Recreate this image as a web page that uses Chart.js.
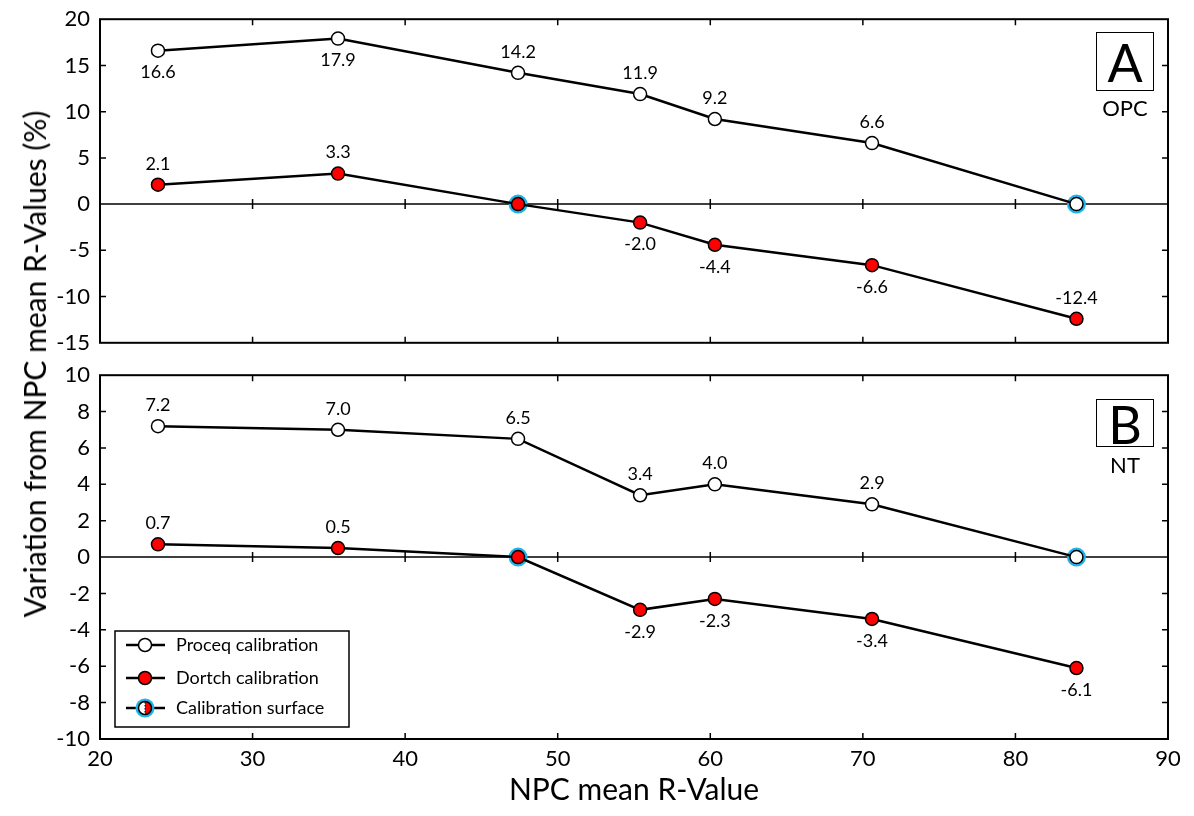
<!DOCTYPE html>
<html>
<head>
<meta charset="utf-8">
<script src="https://cdn.jsdelivr.net/npm/chart.js@4.4.1/dist/chart.umd.min.js"></script>
<style>
  body { margin: 0; background: #fff; width: 1194px; height: 816px; overflow: hidden; position: relative; font-family: Lato, "Open Sans", sans-serif; color: #000; }
  .panel { position: absolute; left: 0; width: 1194px; }
  #wrapA { top: -4px; height: 370px; }
  #wrapB { top: 352px; height: 464px; }
  #ytitle { position: absolute; left: 34px; top: 364px; transform: translate(-50%, -50%) rotate(-90deg); white-space: nowrap; font-size: 30px; }
  .letter { position: absolute; left: 1096px; width: 56px; border: 1.5px solid #000; text-align: center; font-size: 52px; }
  .tag { position: absolute; left: 1096px; width: 58px; text-align: center; font-size: 22px; }
</style>
</head>
<body>
<div class="panel" id="wrapA"><canvas id="chartA"></canvas></div>
<div class="panel" id="wrapB"><canvas id="chartB"></canvas></div>
<div id="ytitle">Variation from NPC mean R-Values (%)</div>
<div class="letter" style="top:32px;height:57px;line-height:58px">A</div>
<div class="tag" style="top:94px">OPC</div>
<div class="letter" style="top:399px;height:46px;line-height:48px">B</div>
<div class="tag" style="top:451px">NT</div>
<script>
// Valores
const valorNPC = [23.8, 35.6, 47.4, 55.4, 60.3, 70.6, 84.0];
const opcProceq = [16.6, 17.9, 14.2, 11.9, 9.2, 6.6, 0];
const opcDortch = [2.1, 3.3, 0, -2.0, -4.4, -6.6, -12.4];
const ntProceq = [7.2, 7.0, 6.5, 3.4, 4.0, 2.9, 0];
const ntDortch = [0.7, 0.5, 0, -2.9, -2.3, -3.4, -6.1];
const calibX = [47.4, 84.0];
const calibY = [0, 0];

const nombresSeries = ['Proceq calibration', 'Dortch calibration', 'Calibration surface'];

// Ejes
const ejeX = { min: 20, max: 90, paso: 10 };
const ejeOPC = { min: -15, max: 20, paso: 5 };
const ejeNT = { min: -10, max: 10, paso: 2 };

// Lado de cada etiqueta (arriba / abajo del punto)
const ladoOpcProceq = ['below', 'below', 'above', 'above', 'above', 'above', null];
const ladoOpcDortch = ['above', 'above', null, 'below', 'below', 'below', 'above'];
const ladoNtProceq = ['above', 'above', 'above', 'above', 'above', 'above', null];
const ladoNtDortch = ['above', 'above', null, 'below', 'below', 'below', 'below'];

const AZUL = '#1db4ea';
const ROJO = '#ff0000';
const FUENTE = 'Lato, "Open Sans", sans-serif';

/** Marco, marcas hacia adentro, línea de cero, etiquetas y leyenda */
const pluginMarco = {
  id: 'marco',
  beforeDatasetsDraw(chart) {
    const { ctx, chartArea: a, scales: { x, y } } = chart;
    ctx.save();
    ctx.strokeStyle = '#000';
    ctx.lineWidth = 1.5;
    const y0 = y.getPixelForValue(0);
    ctx.beginPath();
    ctx.moveTo(a.left, y0); ctx.lineTo(a.right, y0);
    x.ticks.forEach(t => {
      if (t.value <= x.min || t.value >= x.max) return;
      const px = x.getPixelForValue(t.value);
      ctx.moveTo(px, a.top); ctx.lineTo(px, a.top + 6);
      ctx.moveTo(px, a.bottom); ctx.lineTo(px, a.bottom - 6);
      ctx.moveTo(px, y0 - 5); ctx.lineTo(px, y0 + 5);
    });
    y.ticks.forEach(t => {
      if (t.value <= y.min || t.value >= y.max) return;
      const py = y.getPixelForValue(t.value);
      ctx.moveTo(a.left, py); ctx.lineTo(a.left + 6, py);
      ctx.moveTo(a.right, py); ctx.lineTo(a.right - 6, py);
    });
    ctx.stroke();
    ctx.lineWidth = 2;
    ctx.strokeRect(a.left, a.top, a.right - a.left, a.bottom - a.top);
    ctx.restore();
  },
  afterDatasetsDraw(chart, args, opts) {
    const { ctx, chartArea: a } = chart;
    ctx.save();
    ctx.fillStyle = '#000';
    ctx.font = '18px ' + FUENTE;
    ctx.textAlign = 'center';
    ctx.textBaseline = 'middle';
    opts.lados.forEach((lados, di) => {
      const meta = chart.getDatasetMeta(di);
      const datos = chart.data.datasets[di].data;
      meta.data.forEach((p, i) => {
        if (!lados[i]) return;
        const dy = lados[i] === 'above' ? -21 : 22;
        ctx.fillText(datos[i].y.toFixed(1), p.x, p.y + dy);
      });
    });
    if (opts.leyenda) dibujarLeyenda(ctx, a, chart.data.datasets);
    ctx.restore();
  }
};

function dibujarLeyenda(ctx, a, datasets) {
  const L = a.left + 15, B = a.bottom - 12, W = 234, H = 96;
  const T = B - H;
  ctx.fillStyle = '#fff';
  ctx.fillRect(L, T, W, H);
  ctx.strokeStyle = '#000';
  ctx.lineWidth = 1.5;
  ctx.strokeRect(L, T, W, H);
  const filas = [T + 14, T + 47, T + 77];
  const cx = L + 30;
  ctx.font = '18px ' + FUENTE;
  ctx.textAlign = 'left';
  ctx.textBaseline = 'middle';
  filas.forEach((fy, i) => {
    ctx.strokeStyle = '#000';
    ctx.lineWidth = 2.5;
    ctx.beginPath(); ctx.moveTo(L + 11, fy); ctx.lineTo(L + 50, fy); ctx.stroke();
    ctx.lineWidth = 1.5;
    if (i === 2) {
      ctx.fillStyle = AZUL;
      ctx.beginPath(); ctx.arc(cx, fy, 9.5, 0, Math.PI * 2); ctx.fill();
      ctx.fillStyle = '#fff';
      ctx.beginPath(); ctx.arc(cx, fy, 6.5, Math.PI / 2, Math.PI * 1.5); ctx.fill();
      ctx.fillStyle = ROJO;
      ctx.beginPath(); ctx.arc(cx, fy, 6.5, -Math.PI / 2, Math.PI / 2); ctx.fill();
      ctx.beginPath(); ctx.arc(cx, fy, 6.5, 0, Math.PI * 2); ctx.stroke();
      ctx.setLineDash([1.5, 1.5]); ctx.lineWidth = 1;
      ctx.beginPath(); ctx.moveTo(cx, fy - 6); ctx.lineTo(cx, fy + 6); ctx.stroke();
      ctx.setLineDash([]);
    } else {
      ctx.fillStyle = i === 0 ? '#fff' : ROJO;
      ctx.beginPath(); ctx.arc(cx, fy, 6.5, 0, Math.PI * 2); ctx.fill(); ctx.stroke();
    }
    ctx.fillStyle = '#000';
    ctx.fillText(datasets[i].label, L + 61, fy);
  });
}

function serie(label, valores, relleno) {
  return {
    label,
    data: valorNPC.map((x, i) => ({ x, y: valores[i] })),
    showLine: true,
    borderColor: '#000',
    borderWidth: 2.5,
    tension: 0,
    pointRadius: 6.5,
    pointBackgroundColor: relleno,
    pointBorderColor: '#000',
    pointBorderWidth: 1.5,
    order: 1,
  };
}

function crearPanel(canvasId, proceq, dortch, ejeY, lados, inferior) {
  const datasets = [
    serie(nombresSeries[0], proceq, '#fff'),
    serie(nombresSeries[1], dortch, ROJO),
    {
      label: nombresSeries[2],
      data: calibX.map((x, i) => ({ x, y: calibY[i] })),
      showLine: false,
      pointRadius: 9.5,
      pointBackgroundColor: AZUL,
      pointBorderWidth: 0,
      order: 2,
    },
  ];
  const fuenteTicks = { family: FUENTE, size: 22 };
  const x = {
    type: 'linear', min: ejeX.min, max: ejeX.max,
    display: inferior,
    ticks: { stepSize: ejeX.paso, color: '#000', font: fuenteTicks, padding: 7, autoSkip: false, maxRotation: 0 },
    grid: { display: false, drawTicks: false },
    border: { display: false },
    title: { display: inferior, text: 'NPC mean R-Value', color: '#000', font: { family: FUENTE, size: 30 }, padding: { top: 0, bottom: 8 } },
  };
  if (inferior) x.afterFit = s => { s.height = 77; };
  return new Chart(document.getElementById(canvasId), {
    type: 'scatter',
    data: { datasets },
    options: {
      responsive: true,
      maintainAspectRatio: false,
      animation: false,
      layout: { padding: inferior ? { top: 7, right: 26, bottom: 0, left: 0 } : { top: 14, right: 26, bottom: 11, left: 0 } },
      plugins: {
        legend: { display: false },
        tooltip: { enabled: false },
        marco: { lados, leyenda: inferior },
      },
      scales: {
        x,
        y: {
          min: ejeY.min, max: ejeY.max,
          ticks: { stepSize: ejeY.paso, color: '#000', font: fuenteTicks, padding: 10 },
          grid: { display: false, drawTicks: false },
          border: { display: false },
          afterFit: s => { s.width = 100; },
        },
      },
    },
    plugins: [pluginMarco],
  });
}

crearPanel('chartA', opcProceq, opcDortch, ejeOPC, [ladoOpcProceq, ladoOpcDortch], false);
crearPanel('chartB', ntProceq, ntDortch, ejeNT, [ladoNtProceq, ladoNtDortch], true);
</script>
</body>
</html>
